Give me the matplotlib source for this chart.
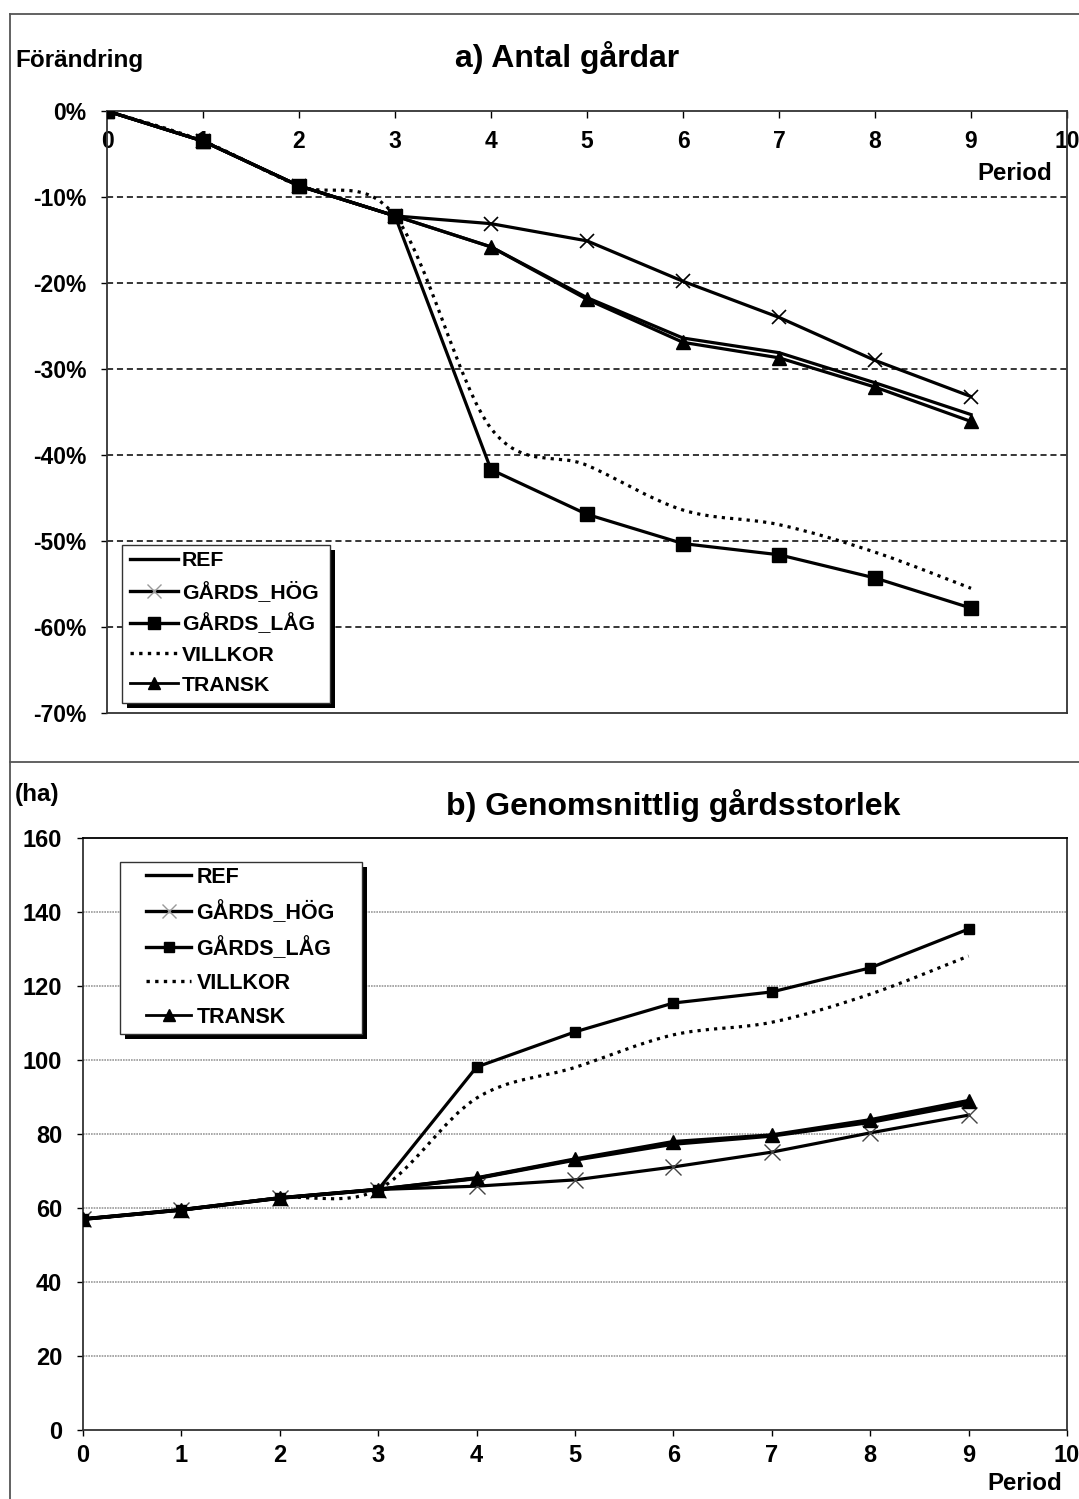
"""Antal gårdar och genomsnittlig gårdsstorlek per period."""

import matplotlib
matplotlib.use("Agg")
import matplotlib.pyplot as plt
from matplotlib.path import Path
from matplotlib.patches import PathPatch, Rectangle
from matplotlib.lines import Line2D

plt.rcParams["font.family"] = ["Liberation Sans", "DejaVu Sans"]
plt.rcParams["font.weight"] = "bold"

periods = [0, 1, 2, 3, 4, 5, 6, 7, 8, 9]
series_names = ["REF", "GÅRDS_HÖG", "GÅRDS_LÅG", "VILLKOR", "TRANSK"]

# a) förändring i antal gårdar, %
farms_ref = [0, -3.5, -8.7, -12.2, -15.8, -21.7, -26.4, -28.1, -31.6, -35.3]
farms_hog = [0, -3.5, -8.7, -12.2, -13.1, -15.1, -19.8, -24.0, -29.0, -33.2]
farms_lag = [0, -3.5, -8.7, -12.2, -41.7, -46.9, -50.3, -51.6, -54.3, -57.8]
farms_villkor = [0, -3.5, -8.7, -12.2, -36.9, -41.2, -46.4, -48.1, -51.3, -55.5]
farms_transk = [0, -3.5, -8.7, -12.2, -15.8, -21.9, -26.9, -28.7, -32.1, -36.1]

# b) genomsnittlig gårdsstorlek, ha
size_ref = [57.0, 59.5, 62.7, 65.0, 68.0, 73.0, 77.3, 79.5, 83.2, 88.2]
size_hog = [57.0, 59.5, 62.7, 65.0, 65.9, 67.6, 71.1, 75.1, 80.3, 85.1]
size_lag = [57.0, 59.5, 62.7, 65.0, 98.1, 107.6, 115.4, 118.4, 124.9, 135.4]
size_villkor = [57.0, 59.5, 62.7, 65.0, 89.7, 98.0, 106.8, 110.2, 117.8, 128.1]
size_transk = [57.0, 59.5, 62.7, 65.0, 68.1, 73.2, 77.9, 79.7, 83.8, 89.0]

W, H = 1079, 1499


def fx(x):
    return x / W


def fy(y):
    return 1 - y / H


def smooth_path(x, y):
    # Excel-style smoothed line (Catmull-Rom as cubic Bezier)
    n = len(x)
    verts = [(x[0], y[0])]
    codes = [Path.MOVETO]
    for i in range(n - 1):
        a = max(i - 1, 0)
        b = min(i + 2, n - 1)
        c1 = (x[i] + (x[i + 1] - x[a]) / 6, y[i] + (y[i + 1] - y[a]) / 6)
        c2 = (x[i + 1] - (x[b] - x[i]) / 6, y[i + 1] - (y[b] - y[i]) / 6)
        verts += [c1, c2, (x[i + 1], y[i + 1])]
        codes += [Path.CURVE4] * 3
    return Path(verts, codes)


def legend_box(ax, x0, y0, x1, y1):
    # legend frame with a solid offset shadow, in figure pixels
    shadow = Rectangle((fx(x0 + 5), fy(y1 + 5)), fx(x1 - x0), fy(y0) - fy(y1),
                       transform=fig.transFigure, fc="black", ec="none",
                       zorder=6, clip_on=False)
    box = Rectangle((fx(x0), fy(y1)), fx(x1 - x0), fy(y0) - fy(y1),
                    transform=fig.transFigure, fc="white", ec="#333333",
                    lw=1, zorder=6.1, clip_on=False)
    ax.add_artist(shadow)
    ax.add_artist(box)


def legend_handles(sq):
    return [
        Line2D([], [], color="black", lw=2.4),
        Line2D([], [], color="black", lw=2.4, marker="x", ms=10, mew=1,
               mec="#999999"),
        Line2D([], [], color="black", lw=2.4, marker="s", ms=sq),
        Line2D([], [], color="black", lw=2.4, ls=(0, (1, 1.6))),
        Line2D([], [], color="black", lw=2.0, marker="^", ms=9),
    ]


fig = plt.figure(figsize=(W / 100, H / 100), dpi=100)

# outer frames
frame_kw = dict(color="#555555", lw=1.3, transform=fig.transFigure)
fig.add_artist(Line2D([fx(10), fx(10)], [fy(14), fy(1499)], **frame_kw))
fig.add_artist(Line2D([fx(10), fx(1079)], [fy(14), fy(14)], **frame_kw))
fig.add_artist(Line2D([fx(10), fx(1079)], [fy(762), fy(762)], **frame_kw))

# ---------- a) Antal gårdar ----------
ax1 = fig.add_axes([fx(107), fy(713), fx(1067) - fx(107), fy(111) - fy(713)])
ax1.set_xlim(0, 10)
ax1.set_ylim(-70, 0)
ax1.set_xticks(range(0, 11))
ax1.set_yticks(range(-70, 1, 10))
ax1.set_yticklabels([f"{v}%" for v in range(-70, 1, 10)])
ax1.xaxis.tick_top()
ax1.tick_params(axis="x", direction="in", length=5, width=1, pad=-30,
                labelsize=16.5)
ax1.tick_params(axis="y", direction="out", length=4, width=1, pad=11,
                labelsize=16.5)
for s in ax1.spines.values():
    s.set_linewidth(1.3)
    s.set_color("#333333")
for v in range(-60, 0, 10):
    ax1.axhline(v, color="black", lw=1.1, ls=(0, (4, 2.5)), zorder=0.5)

ax1.plot(periods, farms_ref, color="black", lw=2.3, zorder=3)
ax1.plot(periods, farms_hog, color="black", lw=2.3, marker="x", ms=10,
         mew=1.2, zorder=3)
ax1.plot(periods, farms_lag, color="black", lw=2.3, marker="s", ms=10.5,
         zorder=3)
ax1.add_patch(PathPatch(smooth_path(periods, farms_villkor), fill=False,
                        ec="black", lw=2.3, ls=(0, (1, 1.6)), zorder=3))
ax1.plot(periods, farms_transk, color="black", lw=2.3, marker="^", ms=10,
         zorder=3)

legend_box(ax1, 122, 545, 330, 703)
leg1 = ax1.legend(legend_handles(9), series_names, loc="upper left",
                  bbox_to_anchor=(fx(130), fy(551)),
                  bbox_transform=fig.transFigure, borderaxespad=0,
                  borderpad=0, frameon=False,
                  prop={"size": 15.3, "weight": "bold"},
                  handlelength=2.25, handletextpad=0.2, labelspacing=0.53)
leg1.set_zorder(7)

fig.text(fx(567), fy(57), "a) Antal gårdar", ha="center", va="center",
         fontsize=23, fontweight="bold")
fig.text(fx(15), fy(61), "Förändring", ha="left", va="center",
         fontsize=17.5, fontweight="bold")
fig.text(fx(1052), fy(173), "Period", ha="right", va="center",
         fontsize=17.3, fontweight="bold")

# ---------- b) Genomsnittlig gårdsstorlek ----------
ax2 = fig.add_axes([fx(83), fy(1430), fx(1067) - fx(83), fy(838) - fy(1430)])
ax2.set_xlim(0, 10)
ax2.set_ylim(0, 160)
ax2.set_xticks(range(0, 11))
ax2.set_yticks(range(0, 161, 20))
ax2.tick_params(axis="both", direction="out", length=4, width=1,
                labelsize=17)
ax2.tick_params(axis="x", pad=6)
ax2.tick_params(axis="y", pad=11)
for s in ax2.spines.values():
    s.set_linewidth(1.3)
    s.set_color("#333333")
ax2.spines["top"].set_color("black")
for v in range(20, 160, 20):
    ax2.axhline(v, color="#999999", lw=1.2, ls=(0, (1, 0.6)), zorder=0.5)

ax2.plot(periods, size_ref, color="black", lw=2.7, zorder=3)
ax2.plot(periods, size_hog, color="black", lw=2.3, marker="x", ms=11,
         mew=1, mec="#444444", zorder=3)
ax2.plot(periods, size_lag, color="black", lw=2.3, marker="s", ms=7.5,
         zorder=3)
ax2.add_patch(PathPatch(smooth_path(periods, size_villkor), fill=False,
                        ec="black", lw=2.3, ls=(0, (1, 1.6)), zorder=3))
ax2.plot(periods, size_transk, color="black", lw=2.7, marker="^", ms=10,
         zorder=3)

legend_box(ax2, 120, 862, 362, 1034)
leg2 = ax2.legend(legend_handles(7), series_names, loc="upper left",
                  bbox_to_anchor=(fx(146), fy(867)),
                  bbox_transform=fig.transFigure, borderaxespad=0,
                  borderpad=0, frameon=False,
                  prop={"size": 15.5, "weight": "bold"},
                  handlelength=2.1, handletextpad=0.25, labelspacing=0.6)
leg2.set_zorder(7)

fig.text(fx(673), fy(806), "b) Genomsnittlig gårdsstorlek", ha="center",
         va="center", fontsize=23, fontweight="bold")
fig.text(fx(15), fy(795), "(ha)", ha="left", va="center",
         fontsize=17.5, fontweight="bold")
fig.text(fx(1062), fy(1483), "Period", ha="right", va="center",
         fontsize=17.3, fontweight="bold")

fig.savefig("out.png", dpi=100)
